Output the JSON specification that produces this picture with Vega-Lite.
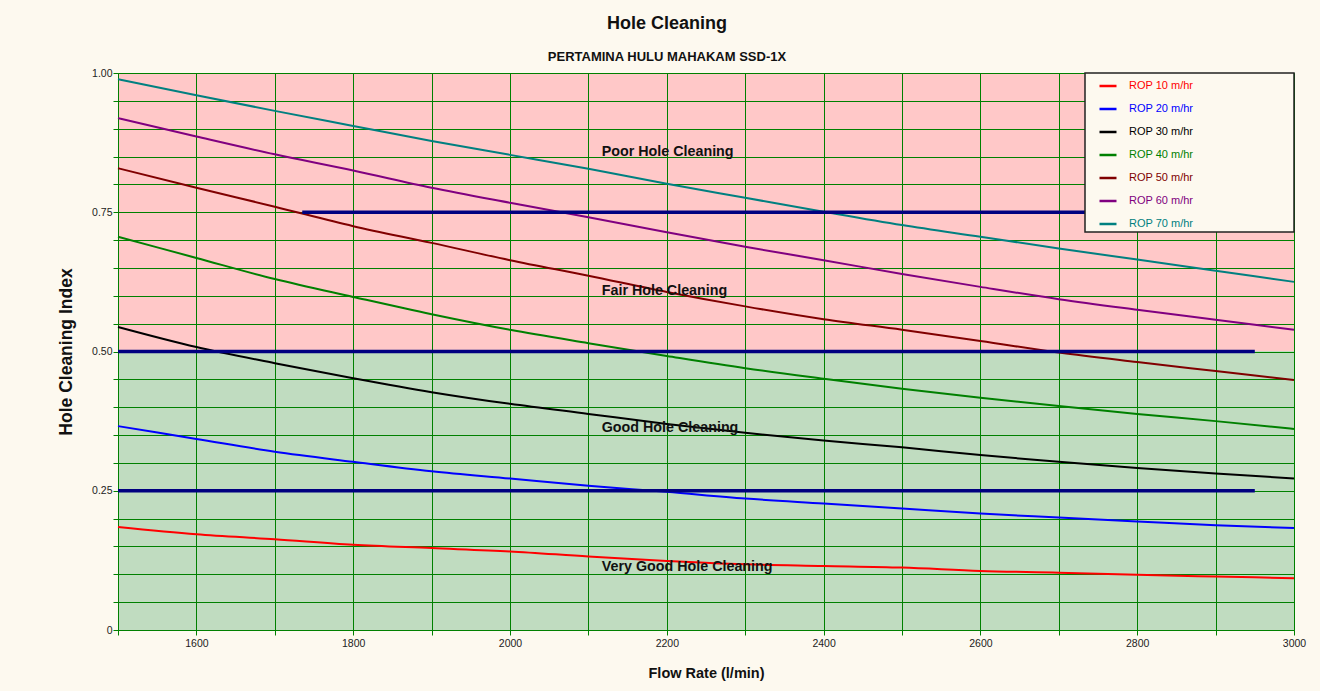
{
  "$schema": "https://vega.github.io/schema/vega-lite/v6.json",
  "width": 1176,
  "height": 557,
  "autosize": {"type": "none"},
  "padding": {"left": 118, "top": 73, "right": 26, "bottom": 61},
  "background": "#FDF9EF",
  "view": {
    "stroke": null,
    "fill": {
      "gradient": "linear", "x1": 0, "y1": 0, "x2": 0, "y2": 1,
      "stops": [
        {"offset": 0, "color": "#FFC8C8"},
        {"offset": 0.5, "color": "#FFC8C8"},
        {"offset": 0.5, "color": "#C0DCC0"},
        {"offset": 1, "color": "#C0DCC0"}
      ]
    }
  },
  "title": {
    "text": "Hole Cleaning",
    "subtitle": "PERTAMINA HULU MAHAKAM SSD-1X",
    "anchor": "middle",
    "frame": "group",
    "dx": -39,
    "offset": 4,
    "font": "Liberation Sans, Arial, sans-serif",
    "fontSize": 18,
    "fontWeight": "bold",
    "color": "#111111",
    "subtitleFont": "Liberation Sans, Arial, sans-serif",
    "subtitleFontSize": 13,
    "subtitleFontWeight": "bold",
    "subtitleColor": "#111111",
    "subtitlePadding": 18.5
  },
  "datasets": {
    "curves": [
      {"flow": 1500, "series": "ROP 10 m/hr", "index": 0.185},
      {"flow": 1600, "series": "ROP 10 m/hr", "index": 0.172},
      {"flow": 1700, "series": "ROP 10 m/hr", "index": 0.163},
      {"flow": 1800, "series": "ROP 10 m/hr", "index": 0.153},
      {"flow": 1900, "series": "ROP 10 m/hr", "index": 0.147},
      {"flow": 2000, "series": "ROP 10 m/hr", "index": 0.141},
      {"flow": 2100, "series": "ROP 10 m/hr", "index": 0.132},
      {"flow": 2200, "series": "ROP 10 m/hr", "index": 0.124},
      {"flow": 2300, "series": "ROP 10 m/hr", "index": 0.118},
      {"flow": 2400, "series": "ROP 10 m/hr", "index": 0.115},
      {"flow": 2500, "series": "ROP 10 m/hr", "index": 0.112},
      {"flow": 2600, "series": "ROP 10 m/hr", "index": 0.106},
      {"flow": 2700, "series": "ROP 10 m/hr", "index": 0.103},
      {"flow": 2800, "series": "ROP 10 m/hr", "index": 0.099},
      {"flow": 2900, "series": "ROP 10 m/hr", "index": 0.096},
      {"flow": 3000, "series": "ROP 10 m/hr", "index": 0.093},
      {"flow": 1500, "series": "ROP 20 m/hr", "index": 0.366},
      {"flow": 1600, "series": "ROP 20 m/hr", "index": 0.343},
      {"flow": 1700, "series": "ROP 20 m/hr", "index": 0.320},
      {"flow": 1800, "series": "ROP 20 m/hr", "index": 0.302},
      {"flow": 1900, "series": "ROP 20 m/hr", "index": 0.285},
      {"flow": 2000, "series": "ROP 20 m/hr", "index": 0.272},
      {"flow": 2100, "series": "ROP 20 m/hr", "index": 0.259},
      {"flow": 2200, "series": "ROP 20 m/hr", "index": 0.248},
      {"flow": 2300, "series": "ROP 20 m/hr", "index": 0.236},
      {"flow": 2400, "series": "ROP 20 m/hr", "index": 0.227},
      {"flow": 2500, "series": "ROP 20 m/hr", "index": 0.218},
      {"flow": 2600, "series": "ROP 20 m/hr", "index": 0.209},
      {"flow": 2700, "series": "ROP 20 m/hr", "index": 0.202},
      {"flow": 2800, "series": "ROP 20 m/hr", "index": 0.195},
      {"flow": 2900, "series": "ROP 20 m/hr", "index": 0.188},
      {"flow": 3000, "series": "ROP 20 m/hr", "index": 0.183},
      {"flow": 1500, "series": "ROP 30 m/hr", "index": 0.544},
      {"flow": 1600, "series": "ROP 30 m/hr", "index": 0.508},
      {"flow": 1700, "series": "ROP 30 m/hr", "index": 0.479},
      {"flow": 1800, "series": "ROP 30 m/hr", "index": 0.452},
      {"flow": 1900, "series": "ROP 30 m/hr", "index": 0.427},
      {"flow": 2000, "series": "ROP 30 m/hr", "index": 0.406},
      {"flow": 2100, "series": "ROP 30 m/hr", "index": 0.388},
      {"flow": 2200, "series": "ROP 30 m/hr", "index": 0.370},
      {"flow": 2300, "series": "ROP 30 m/hr", "index": 0.354},
      {"flow": 2400, "series": "ROP 30 m/hr", "index": 0.340},
      {"flow": 2500, "series": "ROP 30 m/hr", "index": 0.328},
      {"flow": 2600, "series": "ROP 30 m/hr", "index": 0.314},
      {"flow": 2700, "series": "ROP 30 m/hr", "index": 0.302},
      {"flow": 2800, "series": "ROP 30 m/hr", "index": 0.291},
      {"flow": 2900, "series": "ROP 30 m/hr", "index": 0.281},
      {"flow": 3000, "series": "ROP 30 m/hr", "index": 0.272},
      {"flow": 1500, "series": "ROP 40 m/hr", "index": 0.706},
      {"flow": 1600, "series": "ROP 40 m/hr", "index": 0.668},
      {"flow": 1700, "series": "ROP 40 m/hr", "index": 0.630},
      {"flow": 1800, "series": "ROP 40 m/hr", "index": 0.598},
      {"flow": 1900, "series": "ROP 40 m/hr", "index": 0.567},
      {"flow": 2000, "series": "ROP 40 m/hr", "index": 0.539},
      {"flow": 2100, "series": "ROP 40 m/hr", "index": 0.515},
      {"flow": 2200, "series": "ROP 40 m/hr", "index": 0.492},
      {"flow": 2300, "series": "ROP 40 m/hr", "index": 0.470},
      {"flow": 2400, "series": "ROP 40 m/hr", "index": 0.451},
      {"flow": 2500, "series": "ROP 40 m/hr", "index": 0.433},
      {"flow": 2600, "series": "ROP 40 m/hr", "index": 0.417},
      {"flow": 2700, "series": "ROP 40 m/hr", "index": 0.402},
      {"flow": 2800, "series": "ROP 40 m/hr", "index": 0.388},
      {"flow": 2900, "series": "ROP 40 m/hr", "index": 0.375},
      {"flow": 3000, "series": "ROP 40 m/hr", "index": 0.361},
      {"flow": 1500, "series": "ROP 50 m/hr", "index": 0.829},
      {"flow": 1600, "series": "ROP 50 m/hr", "index": 0.794},
      {"flow": 1700, "series": "ROP 50 m/hr", "index": 0.760},
      {"flow": 1800, "series": "ROP 50 m/hr", "index": 0.725},
      {"flow": 1900, "series": "ROP 50 m/hr", "index": 0.695},
      {"flow": 2000, "series": "ROP 50 m/hr", "index": 0.664},
      {"flow": 2100, "series": "ROP 50 m/hr", "index": 0.636},
      {"flow": 2200, "series": "ROP 50 m/hr", "index": 0.607},
      {"flow": 2300, "series": "ROP 50 m/hr", "index": 0.581},
      {"flow": 2400, "series": "ROP 50 m/hr", "index": 0.558},
      {"flow": 2500, "series": "ROP 50 m/hr", "index": 0.539},
      {"flow": 2600, "series": "ROP 50 m/hr", "index": 0.519},
      {"flow": 2700, "series": "ROP 50 m/hr", "index": 0.498},
      {"flow": 2800, "series": "ROP 50 m/hr", "index": 0.481},
      {"flow": 2900, "series": "ROP 50 m/hr", "index": 0.465},
      {"flow": 3000, "series": "ROP 50 m/hr", "index": 0.449},
      {"flow": 1500, "series": "ROP 60 m/hr", "index": 0.919},
      {"flow": 1600, "series": "ROP 60 m/hr", "index": 0.886},
      {"flow": 1700, "series": "ROP 60 m/hr", "index": 0.854},
      {"flow": 1800, "series": "ROP 60 m/hr", "index": 0.825},
      {"flow": 1900, "series": "ROP 60 m/hr", "index": 0.794},
      {"flow": 2000, "series": "ROP 60 m/hr", "index": 0.767},
      {"flow": 2100, "series": "ROP 60 m/hr", "index": 0.741},
      {"flow": 2200, "series": "ROP 60 m/hr", "index": 0.714},
      {"flow": 2300, "series": "ROP 60 m/hr", "index": 0.688},
      {"flow": 2400, "series": "ROP 60 m/hr", "index": 0.664},
      {"flow": 2500, "series": "ROP 60 m/hr", "index": 0.639},
      {"flow": 2600, "series": "ROP 60 m/hr", "index": 0.616},
      {"flow": 2700, "series": "ROP 60 m/hr", "index": 0.594},
      {"flow": 2800, "series": "ROP 60 m/hr", "index": 0.575},
      {"flow": 2900, "series": "ROP 60 m/hr", "index": 0.557},
      {"flow": 3000, "series": "ROP 60 m/hr", "index": 0.539},
      {"flow": 1500, "series": "ROP 70 m/hr", "index": 0.989},
      {"flow": 1600, "series": "ROP 70 m/hr", "index": 0.960},
      {"flow": 1700, "series": "ROP 70 m/hr", "index": 0.932},
      {"flow": 1800, "series": "ROP 70 m/hr", "index": 0.905},
      {"flow": 1900, "series": "ROP 70 m/hr", "index": 0.878},
      {"flow": 2000, "series": "ROP 70 m/hr", "index": 0.853},
      {"flow": 2100, "series": "ROP 70 m/hr", "index": 0.828},
      {"flow": 2200, "series": "ROP 70 m/hr", "index": 0.801},
      {"flow": 2300, "series": "ROP 70 m/hr", "index": 0.776},
      {"flow": 2400, "series": "ROP 70 m/hr", "index": 0.751},
      {"flow": 2500, "series": "ROP 70 m/hr", "index": 0.727},
      {"flow": 2600, "series": "ROP 70 m/hr", "index": 0.706},
      {"flow": 2700, "series": "ROP 70 m/hr", "index": 0.685},
      {"flow": 2800, "series": "ROP 70 m/hr", "index": 0.665},
      {"flow": 2900, "series": "ROP 70 m/hr", "index": 0.645},
      {"flow": 3000, "series": "ROP 70 m/hr", "index": 0.625}
    ],
    "limits": [
      {"flow": 1735, "flow_end": 2950, "index": 0.75},
      {"flow": 1500, "flow_end": 2950, "index": 0.5},
      {"flow": 1500, "flow_end": 2950, "index": 0.25}
    ],
    "zones": [
      {"flow": 2117, "index": 0.858, "label": "Poor Hole Cleaning"},
      {"flow": 2117, "index": 0.609, "label": "Fair Hole Cleaning"},
      {"flow": 2117, "index": 0.362, "label": "Good Hole Cleaning"},
      {"flow": 2117, "index": 0.113, "label": "Very Good Hole Cleaning"}
    ]
  },
  "layer": [
    {
      "data": {"name": "curves"},
      "mark": {"type": "line", "strokeWidth": 2, "interpolate": "monotone"},
      "encoding": {
        "x": {
          "field": "flow", "type": "quantitative", "title": "Flow Rate (l/min)",
          "scale": {"domain": [1500, 3000], "nice": false, "zero": false},
          "axis": {
            "values": [1500, 1600, 1700, 1800, 1900, 2000, 2100, 2200, 2300, 2400, 2500, 2600, 2700, 2800, 2900, 3000],
            "tickCount": 40,
            "labelExpr": "datum.value % 200 == 0 ? format(datum.value, 'd') : ''",
            "labelOverlap": false,
            "labelFlush": false,
            "labelPadding": 3,
            "titlePadding": 18
          }
        },
        "y": {
          "field": "index", "type": "quantitative", "title": "Hole Cleaning Index",
          "scale": {"domain": [0, 1], "nice": false},
          "axis": {
            "values": [0, 0.05, 0.1, 0.15, 0.2, 0.25, 0.3, 0.35, 0.4, 0.45, 0.5, 0.55, 0.6, 0.65, 0.7, 0.75, 0.8, 0.85, 0.9, 0.95, 1],
            "tickCount": 40,
            "labelExpr": "abs(datum.value * 4 - round(datum.value * 4)) < 0.001 ? (datum.value == 0 ? '0' : format(datum.value, '.2f')) : ''",
            "labelOverlap": false,
            "labelFlush": false,
            "labelPadding": 1,
            "titleFontSize": 17.5,
            "titlePadding": 16
          }
        },
        "color": {
          "field": "series", "type": "nominal",
          "scale": {
            "domain": ["ROP 10 m/hr", "ROP 20 m/hr", "ROP 30 m/hr", "ROP 40 m/hr", "ROP 50 m/hr", "ROP 60 m/hr", "ROP 70 m/hr"],
            "range": ["#FF0000", "#0000FF", "#000000", "#008000", "#800000", "#800080", "#008080"]
          },
          "legend": {
            "title": null,
            "orient": "none",
            "legendX": 967,
            "legendY": 0,
            "symbolType": "stroke",
            "symbolSize": 289,
            "symbolStrokeWidth": 2.5,
            "symbolOffset": 10,
            "labelOffset": 11,
            "rowPadding": 8,
            "padding": 3,
            "labelLimit": 400,
            "labelExpr": "datum.label + '                                \u200b'",
            "fillColor": "#FDF9EF",
            "strokeColor": "#222222",
            "encode": {"labels": {"update": {"fill": {"scale": "color", "field": "value"}}}}
          }
        }
      }
    },
    {
      "data": {"name": "limits"},
      "mark": {"type": "rule", "color": "#000080", "strokeWidth": 3.5},
      "encoding": {
        "x": {"field": "flow", "type": "quantitative", "title": "Flow Rate (l/min)"},
        "x2": {"field": "flow_end"},
        "y": {"field": "index", "type": "quantitative", "title": "Hole Cleaning Index"}
      }
    },
    {
      "data": {"name": "zones"},
      "mark": {
        "type": "text", "align": "left", "baseline": "middle",
        "font": "Liberation Sans, Arial, sans-serif",
        "fontSize": 14.3, "fontWeight": "bold", "color": "#111111"
      },
      "encoding": {
        "x": {"field": "flow", "type": "quantitative", "title": "Flow Rate (l/min)"},
        "y": {"field": "index", "type": "quantitative", "title": "Hole Cleaning Index"},
        "text": {"field": "label", "type": "nominal"}
      }
    }
  ],
  "config": {
    "axis": {
      "grid": true,
      "gridColor": "#008000",
      "gridOpacity": 1,
      "gridWidth": 1,
      "domainColor": "#008000",
      "domainWidth": 1,
      "tickColor": "#008000",
      "tickSize": 5,
      "labelFont": "Liberation Sans, Arial, sans-serif",
      "labelFontSize": 10.5,
      "labelColor": "#222222",
      "titleFont": "Liberation Sans, Arial, sans-serif",
      "titleFontSize": 14.5,
      "titleFontWeight": "bold",
      "titleColor": "#111111"
    },
    "legend": {
      "labelFont": "Liberation Sans, Arial, sans-serif",
      "labelFontSize": 11,
      "strokeWidth": 1.5
    }
  }
}
